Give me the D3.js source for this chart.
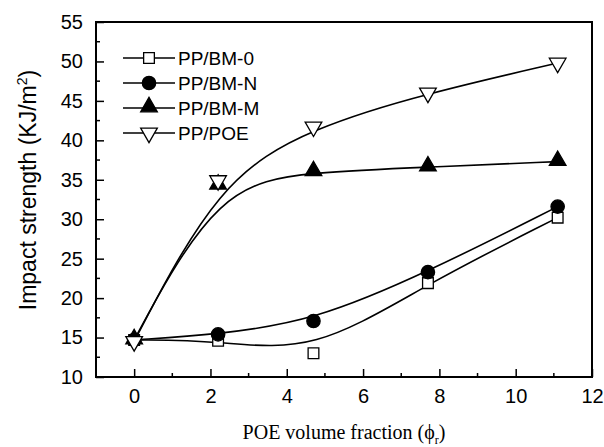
<!DOCTYPE html>
<html>
<head>
<meta charset="utf-8">
<script src="https://cdn.jsdelivr.net/npm/d3@7"></script>
<style>
  body { margin: 0; background: #fff; }
  svg { display: block; }
</style>
</head>
<body>
<div id="chart"></div>
<script>
// volume fraction of POE
var fraction = [0, 2.2, 4.7, 7.7, 11.1];

var bm0 = [14.7, 14.6, 13.0, 21.9, 30.2];
var bmN = [14.7, 15.4, 17.1, 23.3, 31.6];
var bmM = [14.7, 34.3, 36.0, 36.6, 37.3];
var poe = [14.5, 34.9, 41.7, 46.0, 49.8];

var seriesNames = ['PP/BM-0', 'PP/BM-N', 'PP/BM-M', 'PP/POE'];
var xTicks = [0, 2, 4, 6, 8, 10, 12];
var yTicks = [10, 15, 20, 25, 30, 35, 40, 45, 50, 55];

function draw() {
   var width = 604, height = 447;
   var left = 96, right = 592, top = 22, bottom = 377;

   var svg = d3.select('#chart')
      .append('svg')
      .attr('width', width)
      .attr('height', height);

   var x = d3.scaleLinear().domain([-1, 12]).range([left, right]);
   var y = d3.scaleLinear().domain([10, 55]).range([bottom, top]);

   var series = [
      {name: seriesNames[0], values: bm0, shape: 'square'},
      {name: seriesNames[1], values: bmN, shape: 'circle'},
      {name: seriesNames[2], values: bmM, shape: 'up'},
      {name: seriesNames[3], values: poe, shape: 'down'}
   ];

   function marker(sel, shape) {
      var sym = {
         square: d3.symbol().type(d3.symbolSquare).size(115),
         circle: d3.symbol().type(d3.symbolCircle).size(140),
         up: d3.symbol().type(d3.symbolTriangle).size(120),
         down: d3.symbol().type(d3.symbolTriangle).size(120)
      }[shape];
      var filled = shape === 'circle' || shape === 'up';
      sel.append('path')
         .attr('d', sym)
         .attr('transform', shape === 'down' ? 'rotate(180)' : shape === 'up' ? 'translate(0,-1)' : null)
         .attr('fill', filled ? '#000' : '#fff')
         .attr('stroke', '#000')
         .attr('stroke-width', 1.3);
   }

   // axes: ticks point inward
   var xAxis = d3.axisBottom(x).tickValues(xTicks).tickSize(-8).tickPadding(12);
   var yAxis = d3.axisLeft(y).tickValues(yTicks).tickSize(-8).tickPadding(13);

   var gx = svg.append('g')
      .attr('transform', 'translate(0,' + bottom + ')')
      .call(xAxis);
   var gy = svg.append('g')
      .attr('transform', 'translate(' + left + ',0)')
      .call(yAxis);

   [gx, gy].forEach(function (g) {
      g.select('.domain').remove();
      g.selectAll('line').attr('stroke', '#000').attr('stroke-width', 1.5);
      g.selectAll('text')
         .attr('fill', '#000')
         .style('font-family', 'Liberation Sans, Arial, sans-serif')
         .style('font-size', '20px');
   });

   // minor ticks
   svg.append('g').selectAll('line')
      .data(d3.range(1, 12, 2))
      .enter().append('line')
      .attr('x1', function (d) { return x(d); })
      .attr('x2', function (d) { return x(d); })
      .attr('y1', bottom)
      .attr('y2', bottom - 4)
      .attr('stroke', '#000')
      .attr('stroke-width', 1.5);
   svg.append('g').selectAll('line')
      .data(d3.range(12.5, 55, 5))
      .enter().append('line')
      .attr('x1', left)
      .attr('x2', left + 4)
      .attr('y1', function (d) { return y(d); })
      .attr('y2', function (d) { return y(d); })
      .attr('stroke', '#000')
      .attr('stroke-width', 1.5);

   // frame
   svg.append('rect')
      .attr('x', left)
      .attr('y', top)
      .attr('width', right - left)
      .attr('height', bottom - top)
      .attr('fill', 'none')
      .attr('stroke', '#000')
      .attr('stroke-width', 2);

   var line = d3.line()
      .x(function (d) { return x(d[0]); })
      .y(function (d) { return y(d[1]); })
      .curve(d3.curveBasis);

   svg.append('g').selectAll('path')
      .data(series)
      .enter().append('path')
      .attr('d', function (s) {
         return line(fraction.map(function (f, i) { return [f, s.values[i]]; }));
      })
      .attr('fill', 'none')
      .attr('stroke', '#000')
      .attr('stroke-width', 1.6);

   series.forEach(function (s) {
      fraction.forEach(function (f, i) {
         var g = svg.append('g')
            .attr('transform', 'translate(' + x(f) + ',' + y(s.values[i]) + ')');
         marker(g, s.shape);
      });
   });

   // legend
   var legend = svg.append('g');
   series.forEach(function (s, i) {
      var ly = 58 + i * 25;
      legend.append('line')
         .attr('x1', 123).attr('x2', 175)
         .attr('y1', ly).attr('y2', ly)
         .attr('stroke', '#000')
         .attr('stroke-width', 1.6);
      var g = legend.append('g').attr('transform', 'translate(149,' + ly + ')');
      marker(g, s.shape);
      legend.append('text')
         .attr('x', 178)
         .attr('y', ly)
         .attr('dy', '0.36em')
         .style('font-family', 'Liberation Sans, Arial, sans-serif')
         .style('font-size', '19px')
         .text(s.name);
   });

   // axis titles
   var xt = svg.append('text')
      .attr('x', (left + right) / 2)
      .attr('y', 439)
      .attr('text-anchor', 'middle')
      .style('font-family', 'Liberation Serif, Times New Roman, serif')
      .style('font-size', '20px');
   xt.append('tspan').text('POE volume fraction (\u03d5');
   xt.append('tspan').attr('dy', 5).style('font-size', '12px').text('r');
   xt.append('tspan').attr('dy', -5).text(')');

   var yt = svg.append('text')
      .attr('transform', 'translate(36,190) rotate(-90)')
      .attr('text-anchor', 'middle')
      .style('font-family', 'Liberation Sans, Arial, sans-serif')
      .style('font-size', '23px');
   yt.append('tspan').text('Impact strength (KJ/m');
   yt.append('tspan').attr('dy', -9).style('font-size', '14px').text('2');
   yt.append('tspan').attr('dy', 9).text(')');
}

draw();
</script>
</body>
</html>
